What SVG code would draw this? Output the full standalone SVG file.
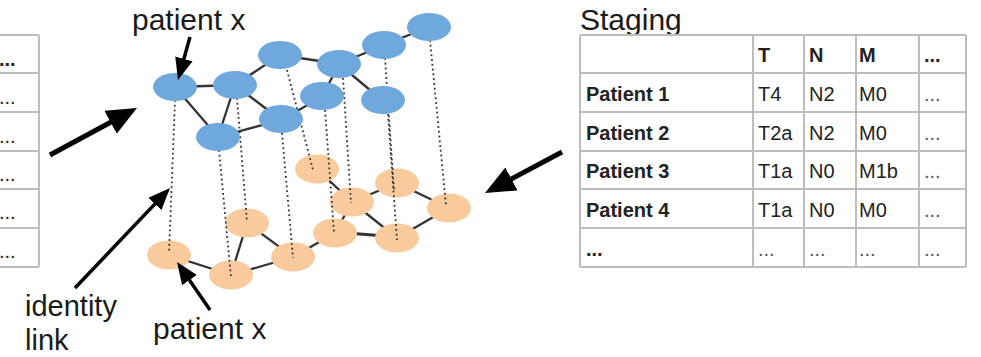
<svg xmlns="http://www.w3.org/2000/svg" width="981" height="357" viewBox="0 0 981 357">
<style>
.lbl{font-family:"Liberation Sans",Arial,sans-serif;font-size:30px;fill:#1a1a1a}
.cell{font-family:"Liberation Sans",Arial,sans-serif;font-size:20px;fill:#222}
.b{font-weight:bold}
.dots{fill:#555}
.grid{stroke:#bdbdbd;stroke-width:2;fill:none}
.blue{fill:#6fa8dc}
.orange{fill:#f9cb9c}
.edge{stroke:#333;stroke-width:2.3;fill:none}
.link{stroke:#333;stroke-width:1.8;stroke-dasharray:1.8 3;fill:none}
.arrowBig{stroke:#000;stroke-width:5;fill:none}
.arrowSm{stroke:#000;stroke-width:3.5;fill:none}
</style>
<defs>
<marker id="headBig" viewBox="0 0 30 26" markerWidth="30" markerHeight="26" refX="8" refY="13" orient="auto" markerUnits="userSpaceOnUse">
<path d="M0,0 L30,13 L0,26 z" fill="#000"/>
</marker>
<marker id="headSm" viewBox="0 0 22 18" markerWidth="22" markerHeight="18" refX="6" refY="9" orient="auto" markerUnits="userSpaceOnUse">
<path d="M0,0 L22,9 L0,18 z" fill="#000"/>
</marker>
</defs>
<rect width="981" height="357" fill="#fff"/>

<g id="left-table">
<path class="grid" d="M-2,35 H39 M-2,73 H39 M-2,112 H39 M-2,151 H39 M-2,189 H39 M-2,228 H39 M-2,267 H39 M39,35 V267"/>
<text class="cell b" x="-1" y="66">...</text>
<text class="cell" x="-1" y="104">...</text>
<text class="cell" x="-1" y="143">...</text>
<text class="cell" x="-1" y="181">...</text>
<text class="cell" x="-1" y="219">...</text>
<text class="cell" x="-1" y="258">...</text>
</g>

<g id="staging-table">
<text class="lbl" x="580" y="30">Staging</text>
<path class="grid" d="M580,35 H966 M580,73 H966 M580,112 H966 M580,151 H966 M580,189 H966 M580,228 H966 M580,267 H966 M580,35 V267 M753,35 V267 M804,35 V267 M856,35 V267 M919,35 V267 M966,35 V267"/>
<text class="cell b" x="758" y="62">T</text>
<text class="cell b" x="809" y="62">N</text>
<text class="cell b" x="859" y="62">M</text>
<text class="cell b" x="924" y="62">...</text>
<text class="cell b" x="586" y="101">Patient 1</text>
<text class="cell" x="758" y="101">T4</text>
<text class="cell" x="809" y="101">N2</text>
<text class="cell" x="859" y="101">M0</text>
<text class="cell dots" x="924" y="101">...</text>
<text class="cell b" x="586" y="140">Patient 2</text>
<text class="cell" x="758" y="140">T2a</text>
<text class="cell" x="809" y="140">N2</text>
<text class="cell" x="859" y="140">M0</text>
<text class="cell dots" x="924" y="140">...</text>
<text class="cell b" x="586" y="178">Patient 3</text>
<text class="cell" x="758" y="178">T1a</text>
<text class="cell" x="809" y="178">N0</text>
<text class="cell" x="859" y="178">M1b</text>
<text class="cell dots" x="924" y="178">...</text>
<text class="cell b" x="586" y="217">Patient 4</text>
<text class="cell" x="758" y="217">T1a</text>
<text class="cell" x="809" y="217">N0</text>
<text class="cell" x="859" y="217">M0</text>
<text class="cell dots" x="924" y="217">...</text>
<text class="cell b" x="586" y="256">...</text>
<text class="cell dots" x="758" y="256">...</text>
<text class="cell dots" x="809" y="256">...</text>
<text class="cell dots" x="859" y="256">...</text>
<text class="cell dots" x="924" y="256">...</text>
</g>

<g id="orange-edges">
<line class="edge" x1="169" y1="255" x2="231" y2="275"/>
<line class="edge" x1="231" y1="275" x2="247" y2="223"/>
<line class="edge" x1="231" y1="275" x2="293" y2="257"/>
<line class="edge" x1="247" y1="223" x2="293" y2="257"/>
<line class="edge" x1="293" y1="257" x2="335" y2="233"/>
<line class="edge" x1="335" y1="232" x2="397" y2="237" style="stroke-width:3.2"/>
<line class="edge" x1="335" y1="233" x2="352" y2="202"/>
<line class="edge" x1="317" y1="169" x2="352" y2="202"/>
<line class="edge" x1="352" y1="202" x2="397" y2="238"/>
<line class="edge" x1="352" y1="202" x2="397" y2="183"/>
<line class="edge" x1="397" y1="183" x2="449" y2="208"/>
<line class="edge" x1="397" y1="238" x2="449" y2="208"/>
</g>

<g id="orange-nodes">
<ellipse id="o1" class="orange" cx="169" cy="255" rx="22" ry="14.5"/>
<ellipse id="o2" class="orange" cx="231" cy="275" rx="22" ry="14.5"/>
<ellipse id="o3" class="orange" cx="247" cy="223" rx="22" ry="14.5"/>
<ellipse id="o4" class="orange" cx="293" cy="257" rx="22" ry="14.5"/>
<ellipse id="o5" class="orange" cx="317" cy="169" rx="22" ry="14.5"/>
<ellipse id="o6" class="orange" cx="335" cy="233" rx="22" ry="14.5"/>
<ellipse id="o7" class="orange" cx="352" cy="202" rx="22" ry="14.5"/>
<ellipse id="o8" class="orange" cx="397" cy="183" rx="22" ry="14.5"/>
<ellipse id="o9" class="orange" cx="397" cy="238" rx="22" ry="14.5"/>
<ellipse id="o10" class="orange" cx="449" cy="208" rx="22" ry="14.5"/>
</g>

<g id="identity-links">
<line class="link" x1="175" y1="100" x2="169" y2="253"/>
<line class="link" x1="219" y1="150" x2="231" y2="277"/>
<line class="link" x1="237" y1="98" x2="247" y2="222"/>
<line class="link" x1="282" y1="133" x2="293" y2="258"/>
<line class="link" x1="287" y1="70" x2="313" y2="170"/>
<line class="link" x1="325" y1="110" x2="334" y2="232"/>
<line class="link" x1="343" y1="78" x2="351" y2="203"/>
<line class="link" x1="385" y1="58" x2="394" y2="190"/>
<line class="link" x1="388" y1="114" x2="397" y2="240"/>
<line class="link" x1="430" y1="40" x2="446" y2="205"/>
</g>

<g id="blue-edges">
<line class="edge" x1="175" y1="87" x2="235" y2="85"/>
<line class="edge" x1="175" y1="87" x2="218" y2="137"/>
<line class="edge" x1="235" y1="85" x2="218" y2="137"/>
<line class="edge" x1="235" y1="85" x2="280" y2="55"/>
<line class="edge" x1="235" y1="85" x2="281" y2="120"/>
<line class="edge" x1="218" y1="137" x2="281" y2="120"/>
<line class="edge" x1="281" y1="120" x2="322" y2="97"/>
<line class="edge" x1="280" y1="55" x2="339" y2="64"/>
<line class="edge" x1="322" y1="97" x2="339" y2="64"/>
<line class="edge" x1="339" y1="64" x2="384" y2="45"/>
<line class="edge" x1="339" y1="64" x2="383" y2="101"/>
<line class="edge" x1="384" y1="45" x2="429" y2="27"/>
</g>

<g id="blue-nodes">
<ellipse id="b1" class="blue" cx="175" cy="87" rx="22" ry="14"/>
<ellipse id="b2" class="blue" cx="235" cy="85" rx="22" ry="14"/>
<ellipse id="b3" class="blue" cx="280" cy="55" rx="22" ry="14"/>
<ellipse id="b4" class="blue" cx="339" cy="64" rx="22" ry="14"/>
<ellipse id="b5" class="blue" cx="384" cy="45" rx="22" ry="14"/>
<ellipse id="b6" class="blue" cx="429" cy="27" rx="22" ry="14"/>
<ellipse id="b7" class="blue" cx="322" cy="96" rx="22" ry="14"/>
<ellipse id="b8" class="blue" cx="383" cy="100" rx="22" ry="14"/>
<ellipse id="b9" class="blue" cx="281" cy="119" rx="22" ry="14"/>
<ellipse id="b10" class="blue" cx="218" cy="137" rx="22" ry="14"/>
</g>

<g id="labels">
<text class="lbl" x="132" y="30">patient x</text>
<text class="lbl" x="153" y="339">patient x</text>
<text class="lbl" x="25" y="316" style="font-size:29px">identity</text>
<text class="lbl" x="25" y="350" style="font-size:29px">link</text>
</g>

<g id="arrows">
<line class="arrowBig" x1="50" y1="155" x2="117.6" y2="118.5" marker-end="url(#headBig)"/>
<line class="arrowBig" x1="562" y1="152" x2="504.4" y2="182.7" marker-end="url(#headBig)"/>
<line class="arrowSm" x1="190" y1="37" x2="182.3" y2="64.6" marker-end="url(#headSm)"/>
<line class="arrowSm" x1="210" y1="310" x2="186.1" y2="275.2" marker-end="url(#headSm)"/>
<line class="arrowSm" x1="75" y1="288" x2="159" y2="199.6" marker-end="url(#headSm)"/>
</g>
</svg>
